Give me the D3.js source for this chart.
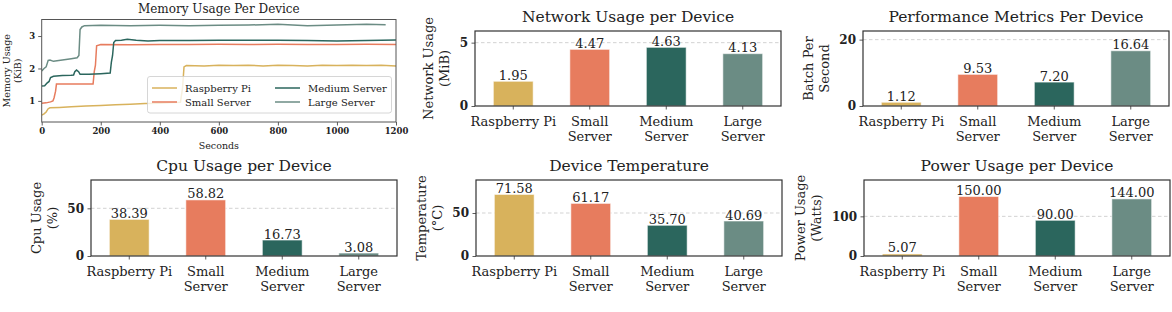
<!DOCTYPE html>
<html>
<head>
<meta charset="utf-8">
<script src="https://cdn.jsdelivr.net/npm/d3@7"></script>
<style>
  body { margin: 0; background: #fff; }
  svg { display: block; font-family: "DejaVu Serif", serif; }
</style>
</head>
<body>
<svg id="chart" width="1172" height="312"></svg>
<script>
// ---- data ----
const devices = ["Raspberry Pi", "Small Server", "Medium Server", "Large Server"];
const deviceLabels = [["Raspberry Pi"], ["Small", "Server"], ["Medium", "Server"], ["Large", "Server"]];
const deviceColors = ["#d8b25c", "#e77c5e", "#2b665d", "#6b8c84"];

const networkUsage = [1.95, 4.47, 4.63, 4.13];
const batchPerSecond = [1.12, 9.53, 7.20, 16.64];
const cpuUsage = [38.39, 58.82, 16.73, 3.08];
const temperature = [71.58, 61.17, 35.70, 40.69];
const powerUsage = [5.07, 150.00, 90.00, 144.00];

const networkTicks = [0, 5];
const batchTicks = [0, 20];
const cpuTicks = [0, 50];
const temperatureTicks = [0, 50];
const powerTicks = [0, 100];

const secondsTicks = [0, 200, 400, 600, 800, 1000, 1200];
const memoryTicks = [1, 2, 3];

// memory usage over time, [seconds, KiB]
const rpiMemory = [[0,0.56],[8,0.60],[15,0.66],[22,0.76],[28,0.79],[60,0.80],[100,0.82],[150,0.84],[200,0.86],[250,0.88],[300,0.90],[350,0.92],[400,0.93],[440,0.95],[470,0.96],[477,1.40],[482,2.05],[490,2.09],[550,2.08],[600,2.10],[650,2.09],[700,2.10],[750,2.08],[800,2.10],[850,2.09],[900,2.08],[950,2.10],[1000,2.09],[1050,2.10],[1100,2.09],[1150,2.10],[1200,2.08]];
const smallMemory = [[0,0.93],[15,0.94],[30,0.97],[38,1.00],[42,1.10],[47,1.30],[50,1.52],[80,1.52],[120,1.52],[150,1.52],[174,1.52],[178,1.90],[182,2.10],[186,2.70],[200,2.74],[300,2.73],[400,2.74],[500,2.74],[600,2.75],[700,2.74],[800,2.75],[900,2.74],[1000,2.74],[1100,2.75],[1200,2.74]];
const mediumMemory = [[0,1.46],[10,1.47],[18,1.55],[25,1.60],[30,1.72],[40,1.76],[70,1.78],[100,1.79],[108,1.80],[112,1.90],[118,1.95],[125,1.90],[130,1.82],[160,1.82],[200,1.84],[232,1.86],[236,2.20],[240,2.40],[244,2.80],[250,2.86],[270,2.87],[290,2.90],[320,2.87],[360,2.85],[400,2.86],[500,2.86],[600,2.87],[700,2.87],[800,2.87],[900,2.86],[1000,2.85],[1100,2.86],[1200,2.88]];
const largeMemory = [[0,1.92],[8,2.00],[15,2.05],[22,2.25],[28,2.26],[40,2.22],[70,2.26],[100,2.30],[120,2.33],[126,2.40],[130,3.20],[136,3.28],[145,3.32],[200,3.33],[300,3.32],[400,3.33],[500,3.32],[600,3.33],[700,3.34],[800,3.36],[900,3.32],[1000,3.34],[1100,3.36],[1165,3.35]];
const memorySeries = [rpiMemory, smallMemory, mediumMemory, largeMemory];

const svg = d3.select("#chart");
const spine = "#333";
const fmt = d3.format(".2f");
const plain = d => String(d);

function styleAxis(a, size, bold) {
  a.attr("font-family", "DejaVu Serif").attr("font-size", size);
  a.select(".domain").remove();
  a.selectAll("line").attr("stroke", spine).attr("stroke-width", 0.8);
  a.selectAll("text").attr("fill", "#222").attr("font-weight", bold ? "bold" : "normal");
}

// ---- memory line chart ----
function memoryPanel() {
  const box = { x0: 41.7, x1: 396, y0: 19.5, y1: 122 };
  const x = d3.scaleLinear().domain([0, 1200]).range([box.x0, box.x1]);
  const y = d3.scaleLinear().domain([0.35, 3.51]).range([box.y1, box.y0]);
  const g = svg.append("g");

  g.append("clipPath").attr("id", "memclip").append("rect")
    .attr("x", box.x0).attr("y", box.y0).attr("width", box.x1 - box.x0).attr("height", box.y1 - box.y0);

  const line = d3.line().x(d => x(d[0])).y(d => y(d[1]));
  g.append("g").attr("clip-path", "url(#memclip)")
    .selectAll("path").data(memorySeries).join("path")
    .attr("d", line).attr("fill", "none")
    .attr("stroke", (d, i) => deviceColors[i]).attr("stroke-width", 1.5);

  const xAxis = g.append("g").attr("transform", `translate(0,${box.y1})`)
    .call(d3.axisBottom(x).tickValues(secondsTicks).tickFormat(plain).tickSize(3.5).tickPadding(2.5));
  const yAxis = g.append("g").attr("transform", `translate(${box.x0},0)`)
    .call(d3.axisLeft(y).tickValues(memoryTicks).tickFormat(plain).tickSize(3.5).tickPadding(3));
  styleAxis(xAxis, 8.5, true);
  styleAxis(yAxis, 8.5, true);

  g.append("rect").attr("x", box.x0).attr("y", box.y0)
    .attr("width", box.x1 - box.x0).attr("height", box.y1 - box.y0)
    .attr("fill", "none").attr("stroke", "#555").attr("stroke-width", 1);

  g.append("text").attr("x", (box.x0 + box.x1) / 2).attr("y", 13)
    .attr("text-anchor", "middle").attr("font-size", 12).attr("fill", "#222")
    .text("Memory Usage Per Device");
  g.append("text").attr("x", (box.x0 + box.x1) / 2).attr("y", 149)
    .attr("text-anchor", "middle").attr("font-size", 9.5).attr("fill", "#222")
    .text("Seconds");

  const cy = (box.y0 + box.y1) / 2;
  [["Memory Usage", 6], ["(KiB)", 17]].forEach(([t, cx]) => {
    g.append("text").attr("transform", `translate(${cx},${cy}) rotate(-90)`)
      .attr("text-anchor", "middle").attr("dominant-baseline", "central")
      .attr("font-size", 9.5).attr("fill", "#222").text(t);
  });

  // legend
  const leg = g.append("g");
  leg.append("rect").attr("x", 147.5).attr("y", 76.5).attr("width", 244).attr("height", 36.5)
    .attr("rx", 2.5).attr("fill", "#fff").attr("fill-opacity", 0.8)
    .attr("stroke", "#ccc").attr("stroke-width", 0.8);
  const cols = [152, 275], rows = [88, 102];
  devices.forEach((name, i) => {
    const lx = cols[Math.floor(i / 2)], ly = rows[i % 2];
    leg.append("line").attr("x1", lx).attr("x2", lx + 25).attr("y1", ly).attr("y2", ly)
      .attr("stroke", deviceColors[i]).attr("stroke-width", 1.5);
    leg.append("text").attr("x", lx + 33).attr("y", ly).attr("dominant-baseline", "central")
      .attr("font-size", 10).attr("fill", "#222").text(name);
  });
}

// ---- bar panels ----
function barPanel(p) {
  const g = svg.append("g");
  const x = d3.scaleBand().domain(devices).range([p.x0, p.x1]).paddingInner(0.48).paddingOuter(0.24);
  const y = d3.scaleLinear().domain([0, p.ymax]).range([p.y1, p.y0]);

  g.selectAll(".grid").data(p.ticks.filter(t => t > 0)).join("line")
    .attr("x1", p.x0).attr("x2", p.x1).attr("y1", d => y(d)).attr("y2", d => y(d))
    .attr("stroke", "#c8c8c8").attr("stroke-width", 0.8).attr("stroke-dasharray", "3.5,2.5");

  g.selectAll(".bar").data(p.values).join("rect")
    .attr("x", (d, i) => x(devices[i])).attr("width", x.bandwidth())
    .attr("y", d => y(d)).attr("height", d => y(0) - y(d))
    .attr("fill", (d, i) => deviceColors[i])
    .attr("stroke", "#fff").attr("stroke-opacity", 0.55).attr("stroke-width", 1);

  g.selectAll(".val").data(p.values).join("text")
    .attr("x", (d, i) => x(devices[i]) + x.bandwidth() / 2).attr("y", d => y(d) - 1.5)
    .attr("text-anchor", "middle").attr("font-size", 13).attr("fill", "#222")
    .text(d => fmt(d));

  const xAxis = g.append("g").attr("transform", `translate(0,${p.y1})`)
    .call(d3.axisBottom(x).tickSize(3.5).tickFormat(""));
  styleAxis(xAxis, 13, false);
  xAxis.selectAll(".tick text").remove();
  xAxis.selectAll(".tick").each(function (d, i) {
    const t = d3.select(this).append("text").attr("text-anchor", "middle").attr("fill", "#222");
    deviceLabels[i].forEach((s, k) => t.append("tspan").attr("x", 0).attr("y", 20 + k * 14.5).text(s));
  });

  const yAxis = g.append("g").attr("transform", `translate(${p.x0},0)`)
    .call(d3.axisLeft(y).tickValues(p.ticks).tickFormat(plain).tickSize(3.5).tickPadding(3.5));
  styleAxis(yAxis, 12, true);

  g.append("rect").attr("x", p.x0).attr("y", p.y0)
    .attr("width", p.x1 - p.x0).attr("height", p.y1 - p.y0)
    .attr("fill", "none").attr("stroke", spine).attr("stroke-width", 1.2);

  g.append("text").attr("x", (p.x0 + p.x1) / 2).attr("y", p.y0 - 9.5)
    .attr("text-anchor", "middle").attr("font-size", 15.5).attr("fill", "#222")
    .text(p.title);

  // y label sits left of the tick labels
  let left = p.x0;
  yAxis.selectAll("text").each(function () { left = Math.min(left, this.getBBox().x + p.x0); });
  const cy = (p.y0 + p.y1) / 2;
  p.ylabel.forEach((t, k) => {
    const cx = left - 15 - (p.ylabel.length - 1 - k) * 16;
    g.append("text").attr("transform", `translate(${cx},${cy}) rotate(-90)`)
      .attr("text-anchor", "middle").attr("dominant-baseline", "central")
      .attr("font-size", 13).attr("fill", "#222").text(t);
  });
}

memoryPanel();
barPanel({ title: "Network Usage per Device", ylabel: ["Network Usage", "(MiB)"], values: networkUsage, ticks: networkTicks, ymax: 5.92, x0: 475, x1: 781, y0: 31, y1: 106 });
barPanel({ title: "Performance Metrics Per Device", ylabel: ["Batch Per", "Second"], values: batchPerSecond, ticks: batchTicks, ymax: 22.6, x0: 863, x1: 1169, y0: 31, y1: 106 });
barPanel({ title: "Cpu Usage per Device", ylabel: ["Cpu Usage", "(%)"], values: cpuUsage, ticks: cpuTicks, ymax: 79.7, x0: 91, x1: 397, y0: 180, y1: 256 });
barPanel({ title: "Device Temperature", ylabel: ["Temperature", "(°C)"], values: temperature, ticks: temperatureTicks, ymax: 88.4, x0: 476, x1: 782, y0: 180, y1: 256 });
barPanel({ title: "Power Usage per Device", ylabel: ["Power Usage", "(Watts)"], values: powerUsage, ticks: powerTicks, ymax: 191.7, x0: 864, x1: 1170, y0: 180, y1: 256 });
</script>
</body>
</html>
